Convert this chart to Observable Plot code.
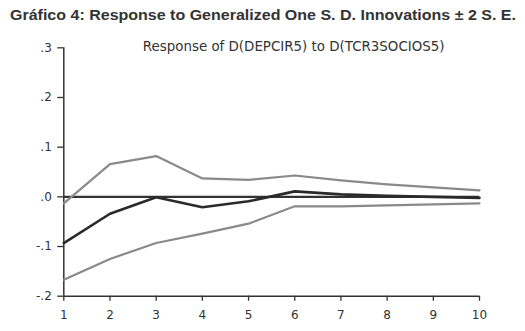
<!DOCTYPE html>
<html><head><meta charset="utf-8">
<script src="https://cdn.jsdelivr.net/npm/d3@7"></script>
<script src="https://cdn.jsdelivr.net/npm/@observablehq/plot@0.6"></script>
<style>
body{margin:0;background:#fff;}
#title{display:block}
#chart svg{display:block}
</style>
</head><body>
<svg id="title" width="525" height="28"><text x="10" y="19.5" textLength="506" lengthAdjust="spacingAndGlyphs" font-family="Liberation Sans" font-weight="bold" font-size="15" fill="#333">Gráfico 4: Response to Generalized One S. D. Innovations ± 2 S. E.</text></svg>
<div id="chart"></div>
<script>
const steps = [1, 2, 3, 4, 5, 6, 7, 8, 9, 10];
const response = [-0.093, -0.034, -0.001, -0.021, -0.009, 0.011, 0.005, 0.002, 0.000, -0.002];
const upper = [-0.013, 0.066, 0.082, 0.037, 0.034, 0.043, 0.033, 0.025, 0.019, 0.013];
const lower = [-0.167, -0.125, -0.093, -0.074, -0.054, -0.019, -0.019, -0.017, -0.015, -0.013];
const yTicks = [0.3, 0.2, 0.1, 0.0, -0.1, -0.2];
const yTickLabels = [".3", ".2", ".1", ".0", "-.1", "-.2"];
const subtitle = "Response of D(DEPCIR5) to D(TCR3SOCIOS5)";

const rows = steps.map((s, i) => ({step: s, response: response[i], upper: upper[i], lower: lower[i]}));

const chart = Plot.plot({
  width: 525,
  height: 303,
  marginTop: 19.3,
  marginBottom: 35.3,
  marginLeft: 63.3,
  marginRight: 46,
  x: {domain: [1, 10]},
  y: {domain: [-0.2, 0.3]},
  style: {fontFamily: "DejaVu Sans", fontSize: "12px", color: "#333", background: "#fff"},
  marks: [
    Plot.axisY({ticks: yTicks, tickFormat: d => yTickLabels[yTicks.findIndex(t => Math.abs(t - d) < 1e-9)], tickSize: 6, tickPadding: 6, label: null, stroke: "#333", strokeWidth: 1.3}),
    Plot.axisX({ticks: steps, tickFormat: d => String(d), tickSize: 5, tickPadding: 9, label: null, stroke: "#333", strokeWidth: 1.3}),
    Plot.ruleX([1], {stroke: "#333", strokeWidth: 1.5}),
    Plot.ruleY([-0.2], {stroke: "#333", strokeWidth: 1.5}),
    Plot.ruleY([0], {x1: 1, x2: 10, stroke: "#333", strokeWidth: 2.4}),
    Plot.line(rows, {x: "step", y: "upper", stroke: "#8a8a8a", strokeWidth: 2.2}),
    Plot.line(rows, {x: "step", y: "lower", stroke: "#8a8a8a", strokeWidth: 2.2}),
    Plot.line(rows, {x: "step", y: "response", stroke: "#2a2a2a", strokeWidth: 2.6}),
    Plot.text([subtitle], {text: d => d, frameAnchor: "top", lineAnchor: "bottom", dx: 22, dy: 3, fontSize: 13.4, fill: "#333"})
  ]
});
document.getElementById("chart").appendChild(chart);
</script>
</body></html>
